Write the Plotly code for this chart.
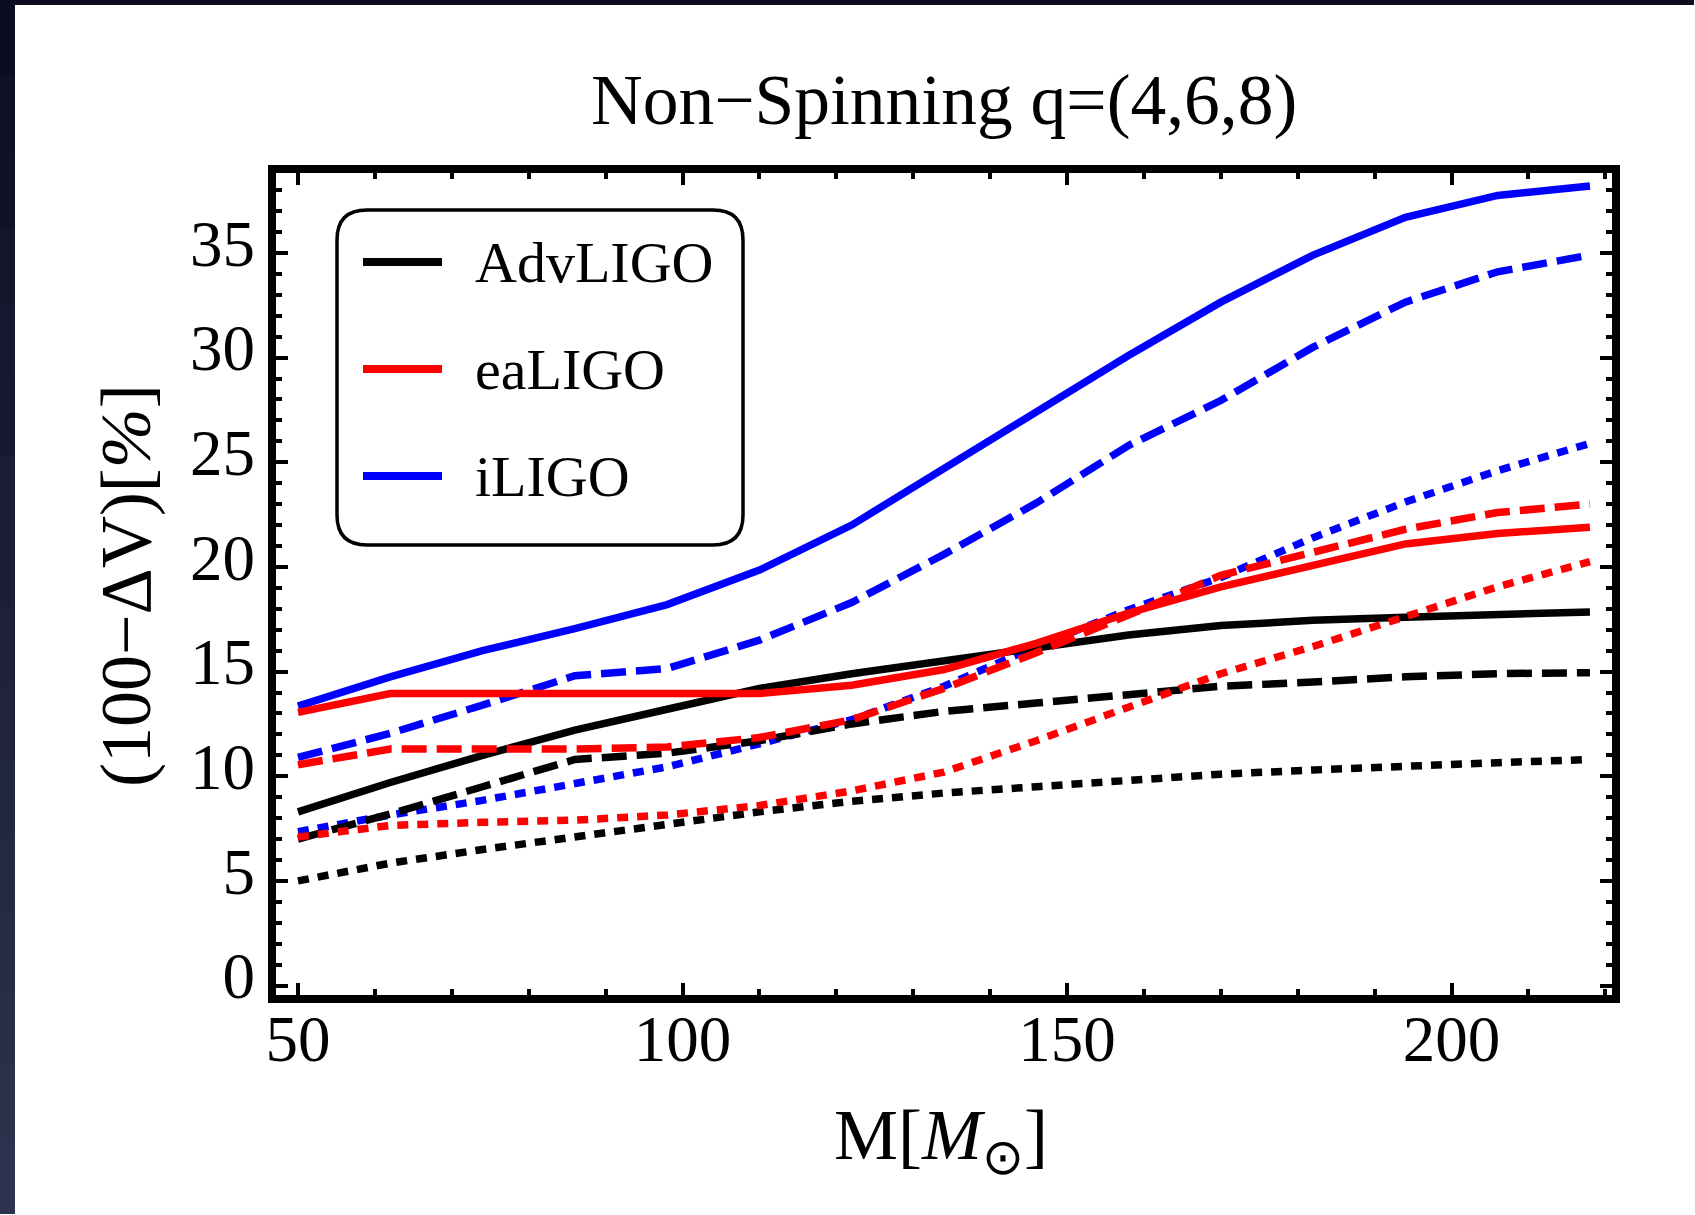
import plotly.graph_objects as go

# Total mass M [solar masses]
mass = [50, 62, 74, 86, 98, 110, 122, 134, 146, 158, 170, 182, 194, 206, 218]

# (100 - ΔV) [%] for q = 4 (solid), 6 (dashed), 8 (dotted)
adv_q4 = [8.3, 9.7, 11.0, 12.2, 13.2, 14.2, 14.9, 15.5, 16.1, 16.75, 17.2, 17.45, 17.6, 17.75, 17.85]
adv_q6 = [7.0, 8.2, 9.5, 10.8, 11.1, 11.7, 12.5, 13.1, 13.5, 13.9, 14.3, 14.5, 14.75, 14.9, 14.95]
adv_q8 = [5.0, 5.85, 6.5, 7.1, 7.75, 8.3, 8.8, 9.2, 9.5, 9.8, 10.1, 10.3, 10.5, 10.65, 10.8]

ea_q4 = [13.05, 13.95, 13.95, 13.95, 13.9, 13.95, 14.35, 15.1, 16.35, 17.8, 19.05, 20.1, 21.1, 21.6, 21.9]
ea_q6 = [10.55, 11.3, 11.3, 11.3, 11.4, 11.85, 12.7, 14.2, 15.9, 17.7, 19.6, 20.7, 21.8, 22.6, 23.0]
ea_q8 = [7.1, 7.65, 7.8, 7.9, 8.15, 8.6, 9.3, 10.2, 11.7, 13.3, 14.9, 16.2, 17.6, 19.05, 20.25]

i_q4 = [13.35, 14.75, 16.0, 17.05, 18.2, 19.85, 22.0, 24.7, 27.3, 30.1, 32.65, 34.9, 36.7, 37.75, 38.2]
i_q6 = [10.9, 12.05, 13.4, 14.8, 15.15, 16.5, 18.3, 20.6, 23.05, 25.8, 27.95, 30.5, 32.65, 34.1, 34.9]
i_q8 = [7.35, 8.15, 8.85, 9.65, 10.45, 11.55, 12.7, 14.3, 16.2, 17.95, 19.5, 21.4, 23.1, 24.6, 25.9]

detectors = ["AdvLIGO", "eaLIGO", "iLIGO"]
colors = {"AdvLIGO": "#000000", "eaLIGO": "#ff0000", "iLIGO": "#0000ff"}
series = {
    "AdvLIGO": [adv_q4, adv_q6, adv_q8],
    "eaLIGO": [ea_q4, ea_q6, ea_q8],
    "iLIGO": [i_q4, i_q6, i_q8],
}
dashes = ["solid", "25px,10px", "11px,9px"]

FONT = "Liberation Serif, Times New Roman, serif"
LW = 7.5

fig = go.Figure()
for det in ["iLIGO", "AdvLIGO", "eaLIGO"]:
    for vals, dash in zip(series[det], dashes):
        fig.add_trace(go.Scatter(
            x=mass, y=vals, mode="lines",
            line=dict(color=colors[det], width=LW, dash=dash),
            showlegend=False, hoverinfo="skip",
        ))

# plot-area geometry in pixels
W, H = 1695, 1215
L, R, T, B = 276, 83, 173, 220
PW, PH = W - L - R, H - T - B


def px(xp):
    return (xp - L) / PW


def py(yp):
    return (H - B - yp) / PH


shapes = []
# dark strips along the left and top edges of the page (left one fades slightly downward)
top_rgb, bot_rgb = (13, 13, 34), (46, 50, 78)
nseg = 16
for k in range(nseg):
    t = k / (nseg - 1)
    c = tuple(round(a + (b - a) * t) for a, b in zip(top_rgb, bot_rgb))
    y_top = H * k / nseg
    y_bot = H * (k + 1) / nseg
    shapes.append(dict(type="rect", xref="paper", yref="paper", layer="above",
                       x0=px(0), x1=px(15), y0=py(min(y_bot + 1, H - 1)), y1=py(y_top),
                       line=dict(width=0), fillcolor=f"rgb{c}"))
shapes.append(dict(type="rect", xref="paper", yref="paper", layer="above",
                   x0=px(0), x1=px(W - 1), y0=py(5), y1=py(0),
                   line=dict(width=0), fillcolor="rgb(13,13,34)"))

# legend box with rounded corners
bx0, bx1, by0, by1 = px(337), px(743), py(545), py(210)
rx, ry = 30 / PW, 30 / PH
path = (f"M {bx0 + rx},{by1} L {bx1 - rx},{by1} Q {bx1},{by1} {bx1},{by1 - ry} "
        f"L {bx1},{by0 + ry} Q {bx1},{by0} {bx1 - rx},{by0} "
        f"L {bx0 + rx},{by0} Q {bx0},{by0} {bx0},{by0 + ry} "
        f"L {bx0},{by1 - ry} Q {bx0},{by1} {bx0 + rx},{by1} Z")
shapes.append(dict(type="path", xref="paper", yref="paper", path=path,
                   line=dict(color="black", width=3.5), fillcolor="white", layer="above"))

annotations = []
for det, yline in zip(detectors, [262, 369, 476]):
    shapes.append(dict(type="line", xref="paper", yref="paper", layer="above",
                       x0=px(363), x1=px(442), y0=py(yline), y1=py(yline),
                       line=dict(color=colors[det], width=8)))
    annotations.append(dict(text=det, xref="paper", yref="paper", x=px(473), y=py(yline),
                            xanchor="left", yanchor="middle", showarrow=False,
                            font=dict(family=FONT, size=58, color="black")))

annotations.append(dict(text="Non\u2212Spinning q=(4,6,8)", xref="paper", yref="paper",
                        x=0.5, y=py(100), xanchor="center", yanchor="middle", showarrow=False,
                        font=dict(family=FONT, size=71.5, color="black")))
annotations.append(dict(text="M[<i>M</i><sub>\u2299</sub>]", xref="paper", yref="paper",
                        x=px(941), y=py(1140), xanchor="center", yanchor="middle", showarrow=False,
                        font=dict(family=FONT, size=72, color="black")))
annotations.append(dict(text="(100\u2212\u0394V)[<i>%</i>]", xref="paper", yref="paper",
                        x=px(126), y=py(586), xanchor="center", yanchor="middle", showarrow=False,
                        textangle=-90, font=dict(family=FONT, size=72, color="black")))

axis_common = dict(
    showgrid=False, zeroline=False, showline=True, linecolor="black", linewidth=8,
    mirror="allticks", ticks="inside", ticklen=12, tickwidth=3.5, tickcolor="black",
    tickfont=dict(family=FONT, size=65, color="black"),
)

fig.update_layout(
    width=W, height=H,
    margin=dict(l=L, r=R, t=T, b=B, pad=0),
    paper_bgcolor="white", plot_bgcolor="white",
    xaxis=dict(range=[47.14, 220.87], tickvals=[50, 100, 150, 200],
               ticklabelstandoff=-20,
               minor=dict(dtick=10, tick0=50, ticklen=6, tickwidth=3.5, ticks="inside",
                          tickcolor="black"),
               **axis_common),
    yaxis=dict(range=[-0.45, 38.82], tickvals=[0, 5, 10, 15, 20, 25, 30, 35],
               ticklabelshift=-10,
               minor=dict(dtick=1, tick0=0, ticklen=6, tickwidth=3.5, ticks="inside",
                          tickcolor="black"),
               **axis_common),
    shapes=shapes,
    annotations=annotations,
    showlegend=False,
)

fig.write_html(
    "out.html",
    config={"displayModeBar": False},
    post_script="document.documentElement.style.overflow='hidden';"
                "document.body.style.overflow='hidden';document.body.style.margin='0';",
)
